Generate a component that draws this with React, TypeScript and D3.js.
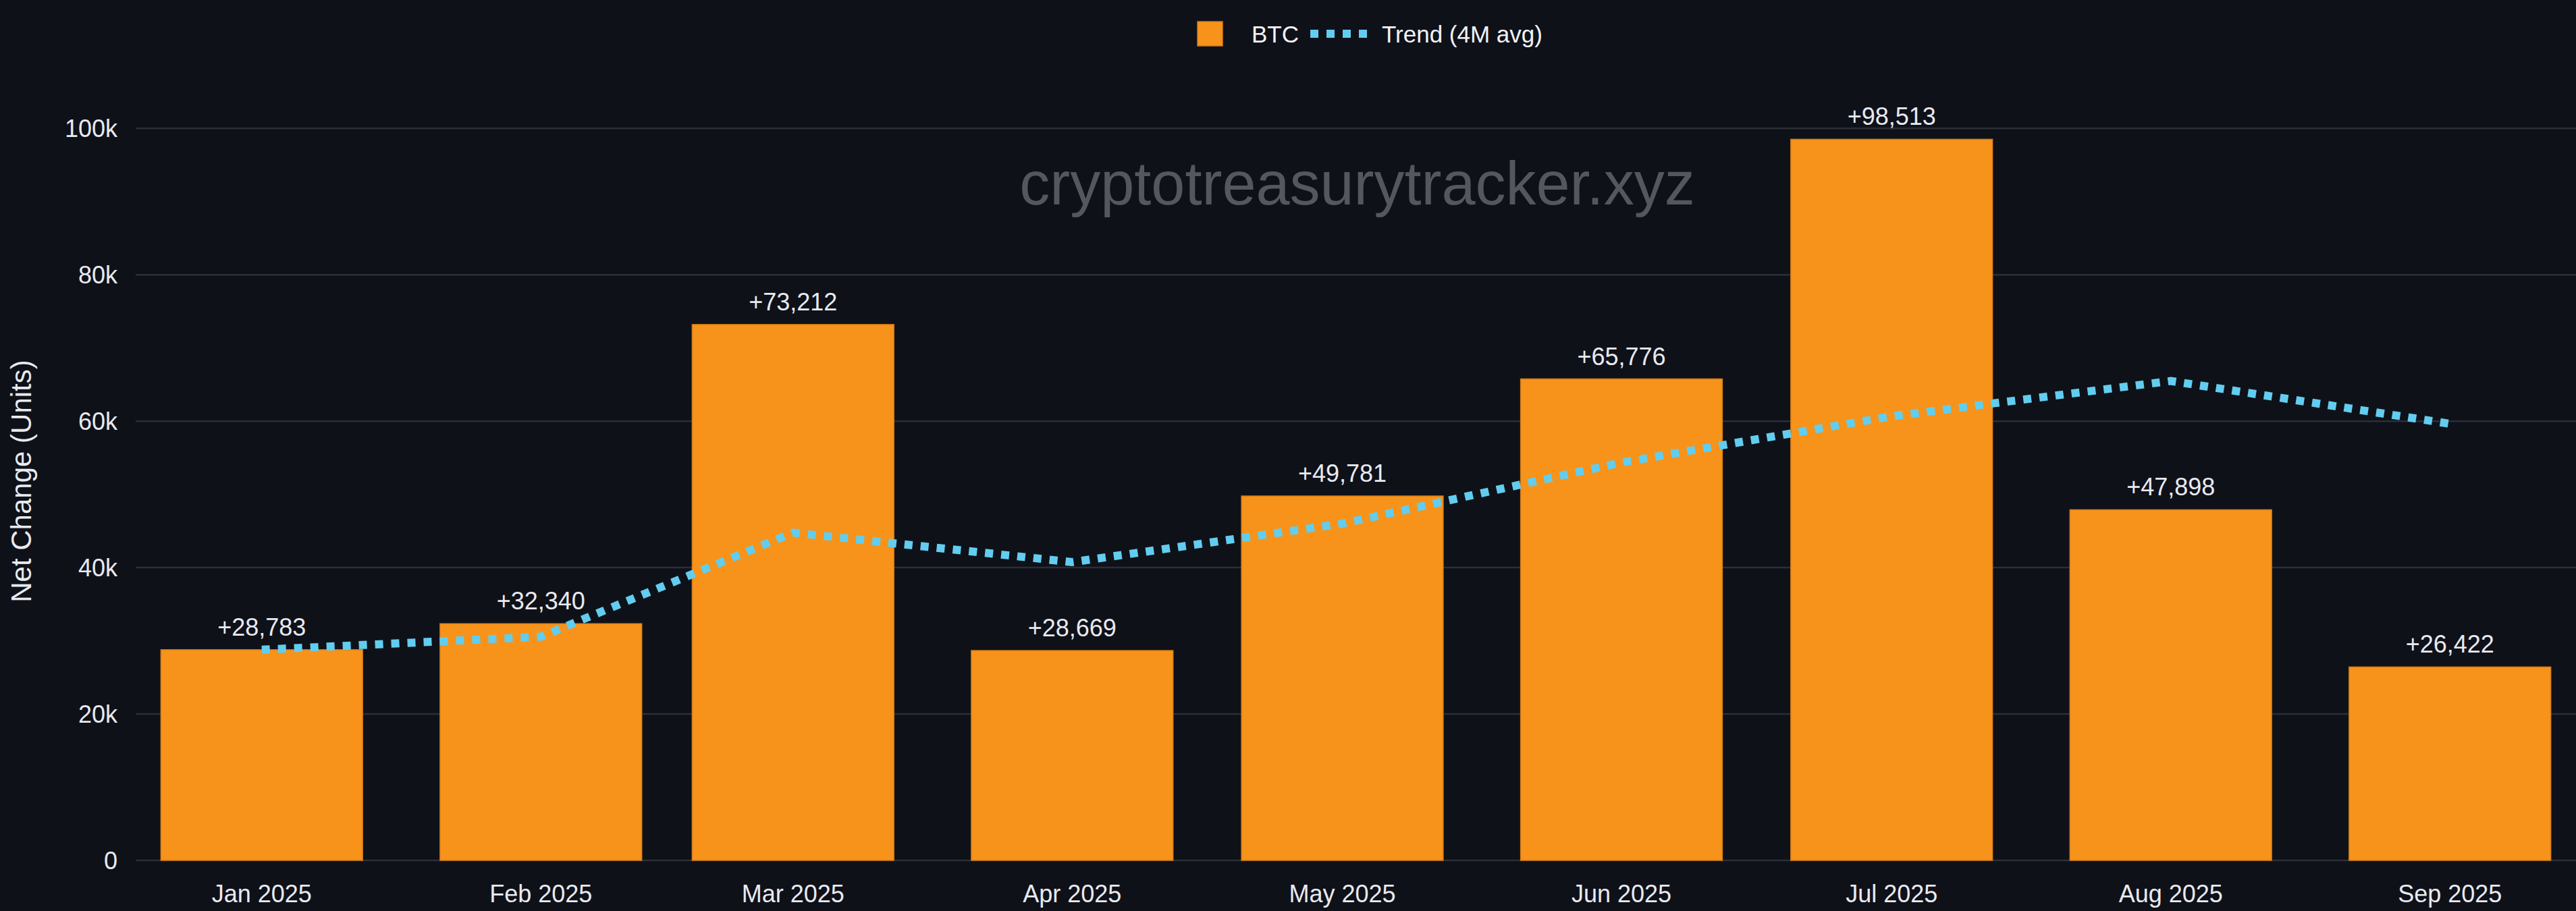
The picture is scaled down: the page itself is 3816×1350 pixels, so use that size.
import * as d3 from "d3";
import { useEffect, useRef } from "react";

// month starts (bars sit on a time axis)
const months = [
  "2025-01-01", "2025-02-01", "2025-03-01", "2025-04-01", "2025-05-01",
  "2025-06-01", "2025-07-01", "2025-08-01", "2025-09-01",
];
const btcNetChange = [28783, 32340, 73212, 28669, 49781, 65776, 98513, 47898, 26422];
// trend line (4 month average)
const trendValues = [28783, 30562, 44778, 40751, 46001, 54360, 60685, 65492, 59652];
const yTicks = [0, 20000, 40000, 60000, 80000, 100000];

const seriesLabel = "BTC";
const trendLabel = "Trend (4M avg)";
const yTitle = "Net Change (Units)";
const watermark = "cryptotreasurytracker.xyz";

export default function App() {
  const svgRef = useRef<SVGSVGElement>(null);

  const width = 3816;
  const height = 1350;
  const margin = { top: 153, right: 0, bottom: 75, left: 201 };

  useEffect(() => {
    const svg = d3.select(svgRef.current);
    svg.selectAll("*").remove();

    const font = "'Liberation Sans', Arial, Helvetica, sans-serif";
    const textColor = "#e8eaf0";
    const orange = "#f7931a";
    const blue = "#62cdee";

    const parse = d3.utcParse("%Y-%m-%d");
    const dates = months.map((m) => parse(m) as Date);

    // smallest spacing between months sets padding and bar width
    let minGapDays = Infinity;
    for (let i = 1; i < dates.length; i++) {
      minGapDays = Math.min(minGapDays, d3.utcDay.count(dates[i - 1], dates[i]));
    }

    const x = d3.scaleUtc()
      .domain([
        d3.utcDay.offset(dates[0], -minGapDays / 2),
        d3.utcDay.offset(dates[dates.length - 1], minGapDays / 2),
      ])
      .range([margin.left, width - margin.right]);

    const y = d3.scaleLinear()
      .domain([0, d3.max(btcNetChange)! * 1.05])
      .range([height - margin.bottom, margin.top]);

    const minGapPx = x(d3.utcDay.offset(dates[0], minGapDays)) - x(dates[0]);
    const barWidth = minGapPx * 0.8;

    svg.append("rect")
      .attr("width", width)
      .attr("height", height)
      .attr("fill", "#0f1119");

    // gridlines
    svg.append("g")
      .selectAll("line")
      .data(yTicks)
      .join("line")
      .attr("x1", margin.left)
      .attr("x2", width - margin.right)
      .attr("y1", (d) => y(d))
      .attr("y2", (d) => y(d))
      .attr("stroke", "#2c2e38")
      .attr("stroke-width", 2.5);

    // y tick labels
    svg.append("g")
      .selectAll("text")
      .data(yTicks)
      .join("text")
      .attr("x", margin.left - 27)
      .attr("y", (d) => y(d))
      .attr("dy", "0.36em")
      .attr("text-anchor", "end")
      .attr("fill", textColor)
      .attr("font-family", font)
      .attr("font-size", 36)
      .text((d) => (d === 0 ? "0" : `${d / 1000}k`));

    svg.append("text")
      .attr("transform", `translate(46,${(margin.top + height - margin.bottom) / 2 - 1}) rotate(-90)`)
      .attr("text-anchor", "middle")
      .attr("fill", textColor)
      .attr("font-family", font)
      .attr("font-size", 42)
      .text(yTitle);

    // watermark
    svg.append("text")
      .attr("x", (margin.left + width - margin.right) / 2 + 2)
      .attr("y", 303)
      .attr("text-anchor", "middle")
      .attr("fill", "#55575d")
      .attr("font-family", font)
      .attr("font-size", 90)
      .text(watermark);

    // x labels
    const fmtMonth = d3.utcFormat("%b %Y");
    svg.append("g")
      .selectAll("text")
      .data(dates)
      .join("text")
      .attr("x", (d) => x(d))
      .attr("y", height - margin.bottom + 62)
      .attr("text-anchor", "middle")
      .attr("fill", textColor)
      .attr("font-family", font)
      .attr("font-size", 36)
      .text((d) => fmtMonth(d));

    // bars
    svg.append("g")
      .selectAll("rect")
      .data(btcNetChange)
      .join("rect")
      .attr("x", (_, i) => x(dates[i]) - barWidth / 2)
      .attr("y", (d) => y(d))
      .attr("width", barWidth)
      .attr("height", (d) => y(0) - y(d))
      .attr("fill", orange)
      .attr("stroke", "#d47d17")
      .attr("stroke-width", 1.5);

    // bar value labels
    svg.append("g")
      .selectAll("text")
      .data(btcNetChange)
      .join("text")
      .attr("x", (_, i) => x(dates[i]))
      .attr("y", (d) => y(d) - 21)
      .attr("text-anchor", "middle")
      .attr("fill", textColor)
      .attr("font-family", font)
      .attr("font-size", 36)
      .text((d) => `+${d3.format(",")(d)}`);

    // trend line
    const line = d3.line<number>()
      .x((_, i) => x(dates[i]))
      .y((d) => y(d));

    svg.append("path")
      .attr("d", line(trendValues))
      .attr("fill", "none")
      .attr("stroke", blue)
      .attr("stroke-width", 12)
      .attr("stroke-dasharray", "12 12");

    // legend
    const legend = svg.append("g");
    legend.append("rect")
      .attr("x", 1774)
      .attr("y", 32)
      .attr("width", 37)
      .attr("height", 36)
      .attr("fill", orange)
      .attr("stroke", "#d47d17")
      .attr("stroke-width", 1.5);
    legend.append("text")
      .attr("x", 1854)
      .attr("y", 63)
      .attr("fill", "#f2f3f5")
      .attr("font-family", font)
      .attr("font-size", 35)
      .text(seriesLabel);
    legend.append("line")
      .attr("x1", 1941)
      .attr("x2", 2026)
      .attr("y1", 50)
      .attr("y2", 50)
      .attr("stroke", blue)
      .attr("stroke-width", 12)
      .attr("stroke-dasharray", "12 12");
    legend.append("text")
      .attr("x", 2047)
      .attr("y", 63)
      .attr("fill", "#f2f3f5")
      .attr("font-family", font)
      .attr("font-size", 35)
      .text(trendLabel);
  }, []);

  return (
    <div style={{ width, height, overflow: "hidden" }}>
      <style>{"body{margin:0;background:#0f1119;}"}</style>
      <svg
        ref={svgRef}
        width={width}
        height={height}
        viewBox={`0 0 ${width} ${height}`}
        style={{ display: "block" }}
      />
    </div>
  );
}
